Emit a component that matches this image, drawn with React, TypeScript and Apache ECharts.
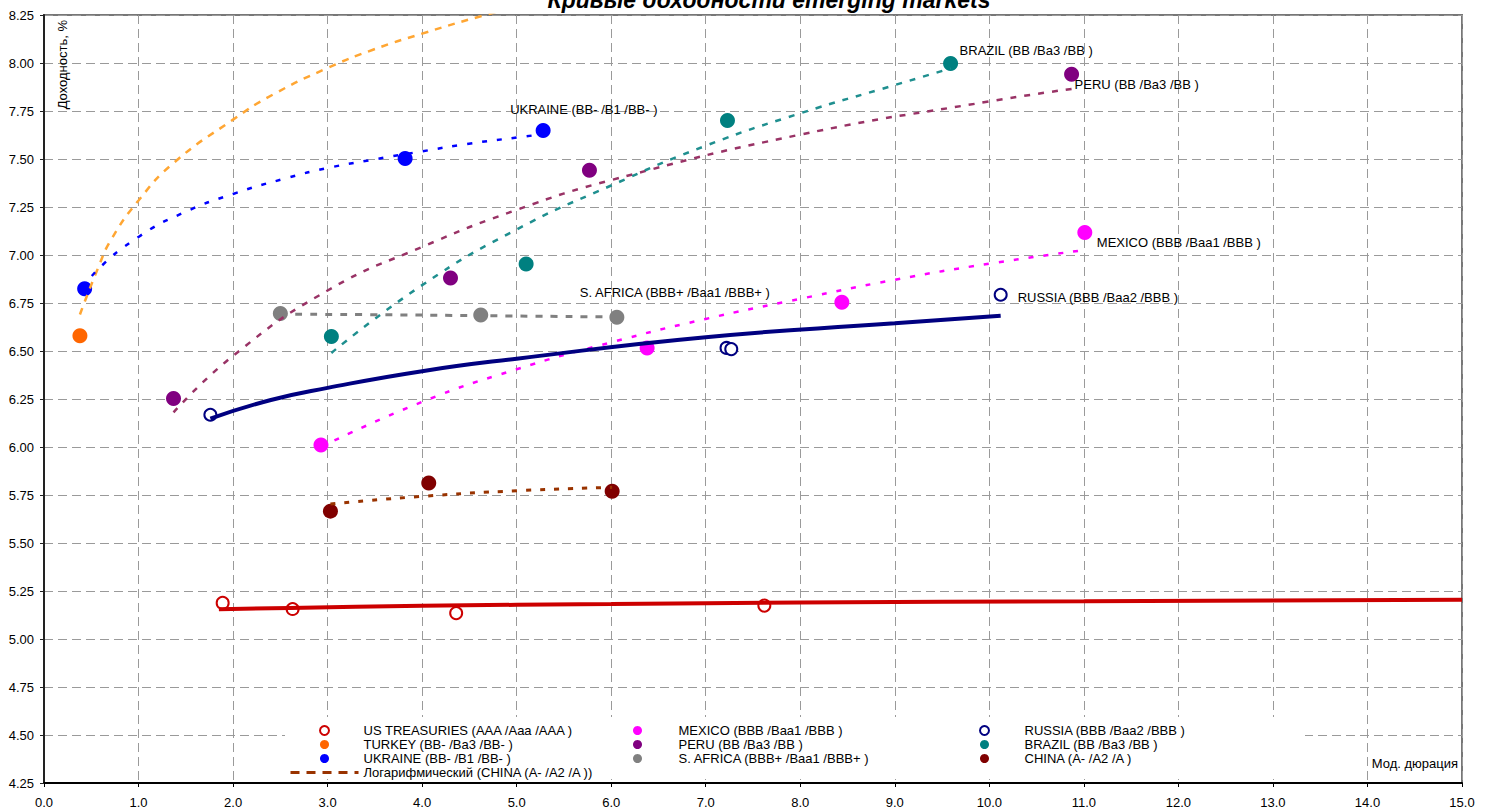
import React, { useEffect, useRef } from "react";
import * as echarts from "echarts";

const FONT = "'Liberation Sans', Arial, sans-serif";

const TITLE = "Кривые доходности emerging markets";
const Y_NAME = "Доходность, %";
const X_NAME = "Мод. дюрация";

// Axis ticks
const X_MIN = 0;
const X_MAX = 15;
const X_STEP = 1;
const Y_MIN = 4.25;
const Y_MAX = 8.25;
const Y_STEP = 0.25;

// Series names
const N_US = "US TREASURIES (AAA /Aaa /AAA )";
const N_TURKEY = "TURKEY (BB- /Ba3 /BB- )";
const N_UKRAINE = "UKRAINE (BB- /B1 /BB- )";
const N_MEXICO = "MEXICO (BBB /Baa1 /BBB )";
const N_PERU = "PERU (BB /Ba3 /BB )";
const N_SAFRICA = "S. AFRICA (BBB+ /Baa1 /BBB+ )";
const N_RUSSIA = "RUSSIA (BBB /Baa2 /BBB )";
const N_BRAZIL = "BRAZIL (BB /Ba3 /BB )";
const N_CHINA = "CHINA (A- /A2 /A )";
const N_CHINA_LOG = "Логарифмический (CHINA (A- /A2 /A ))";

// Bond points: [modified duration, yield %]
const usTreasuries = [[1.89, 5.188], [2.63, 5.156], [4.36, 5.135], [7.62, 5.174]];
const turkey = [[0.38, 6.58]];
const ukraine = [[0.43, 6.824], [3.82, 7.502], [5.28, 7.649]];
const mexico = [[2.93, 6.01], [6.38, 6.516], [8.44, 6.754], [11.01, 7.117]];
const peru = [[1.37, 6.253], [4.3, 6.88], [5.77, 7.441], [10.87, 7.941]];
const sAfrica = [[2.5, 6.695], [4.62, 6.688], [6.06, 6.676]];
const russia = [[1.76, 6.168], [7.22, 6.516], [7.27, 6.51], [10.12, 6.793]];
const brazil = [[3.04, 6.576], [5.1, 6.953], [7.23, 7.7], [9.59, 7.997]];
const china = [[3.03, 5.666], [4.07, 5.812], [6.01, 5.769]];

// Logarithmic trend curves
const usTrend = [[1.85, 5.155], [2.6, 5.162], [4.0, 5.173], [6.0, 5.182], [8.0, 5.19], [11.0, 5.196], [15.0, 5.204]];
const turkeyTrend = [[0.38, 6.69], [0.57, 6.93], [0.71, 7.08], [1.0, 7.284], [1.37, 7.479], [2.0, 7.705], [2.42, 7.835], [3.0, 7.974], [3.48, 8.069], [4.0, 8.153], [4.64, 8.246], [5.3, 8.33]];
const ukraineTrend = [[0.43, 6.822], [0.55, 6.915], [1.0, 7.094], [1.47, 7.219], [2.0, 7.318], [2.57, 7.401], [3.0, 7.453], [3.52, 7.5], [4.0, 7.54], [4.47, 7.578], [5.1, 7.618], [5.28, 7.63]];
const peruTrend = [[1.37, 6.18], [2.0, 6.475], [3.0, 6.815], [4.0, 7.042], [5.0, 7.235], [6.0, 7.39], [8.0, 7.627], [10.0, 7.8], [10.87, 7.865]];
const brazilTrend = [[3.04, 6.49], [4.0, 6.843], [5.0, 7.133], [6.0, 7.362], [7.0, 7.569], [8.0, 7.738], [9.0, 7.885], [9.59, 7.972]];
const sAfricaTrend = [[2.5, 6.692], [3.5, 6.689], [4.6, 6.684], [6.06, 6.677]];
const mexicoTrend = [[2.93, 6.0], [4.0, 6.235], [5.0, 6.405], [6.0, 6.545], [7.0, 6.667], [8.0, 6.772], [9.0, 6.871], [10.0, 6.955], [11.01, 7.026]];
const russiaTrend = [[1.76, 6.148], [2.4, 6.245], [3.0, 6.308], [4.0, 6.395], [5.0, 6.46], [7.0, 6.572], [9.0, 6.644], [10.12, 6.684]];
const chinaTrend = [[3.03, 5.703], [4.0, 5.743], [5.0, 5.772], [6.01, 5.79]];

type Pt = number[];

function scatter(
  name: string,
  data: Pt[],
  color: string,
  empty: boolean,
  labelIdx: number,
  labelOffset: number[]
) {
  return {
    type: "scatter",
    name,
    symbol: empty ? "emptyCircle" : "circle",
    symbolSize: empty ? 12 : 15,
    itemStyle: empty
      ? { color, borderColor: color, borderWidth: 2, opacity: 1 }
      : { color, opacity: 1 },
    emphasis: { disabled: true },
    silent: true,
    z: 2,
    data: data.map((p, i) =>
      i === labelIdx
        ? {
            value: p,
            label: {
              show: true,
              formatter: name,
              position: "inside",
              align: "left",
              verticalAlign: "middle",
              offset: labelOffset,
              color: "#000",
              fontSize: 13,
              fontFamily: FONT,
            },
          }
        : { value: p }
    ),
  };
}

function trend(name: string, data: Pt[], color: string, width: number, dash: any) {
  return {
    type: "line",
    name,
    data,
    smooth: 0.5,
    symbol: "none",
    showSymbol: false,
    clip: true,
    silent: true,
    z: 3,
    itemStyle: { color },
    lineStyle: { color, width, type: dash, cap: "butt" },
    emphasis: { disabled: true },
  };
}

const App: React.FC = () => {
  const ref = useRef<HTMLDivElement>(null);

  useEffect(() => {
    if (!ref.current) return;
    const chart = echarts.init(ref.current, undefined, { renderer: "svg" });

    const legendBase = {
      orient: "vertical",
      top: 724,
      itemHeight: 9,
      itemGap: 1,
      padding: 0,
      selectedMode: false,
      textStyle: { fontSize: 13, color: "#000", fontFamily: FONT },
    };

    const option: any = {
      animation: false,
      backgroundColor: "#fff",
      grid: {
        left: 44,
        right: 39,
        top: 15,
        bottom: 29,
        show: true,
        borderColor: "#777",
        borderWidth: 2,
        backgroundColor: "transparent",
      },
      xAxis: {
        type: "value",
        min: X_MIN,
        max: X_MAX,
        interval: X_STEP,
        axisLine: { show: true, onZero: false, lineStyle: { color: "#000", width: 2 } },
        axisTick: { show: true, length: 4, lineStyle: { color: "#000" } },
        axisLabel: {
          formatter: (v: number) => v.toFixed(1),
          color: "#000",
          fontSize: 13,
          margin: 13,
          fontFamily: FONT,
        },
        splitLine: { show: true, lineStyle: { color: "#9a9a9a", type: [9, 5], width: 1 } },
      },
      yAxis: {
        type: "value",
        min: Y_MIN,
        max: Y_MAX,
        interval: Y_STEP,
        axisLine: { show: true, onZero: false, lineStyle: { color: "#222", width: 2 } },
        axisTick: { show: true, length: 4, lineStyle: { color: "#222" } },
        axisLabel: {
          formatter: (v: number) => v.toFixed(2),
          color: "#000",
          fontSize: 13,
          margin: 10,
          fontFamily: FONT,
        },
        splitLine: { show: true, lineStyle: { color: "#9a9a9a", type: [9, 5], width: 1 } },
      },
      legend: [
        {
          ...legendBase,
          left: 289,
          itemWidth: 68,
          data: [
            { name: N_US },
            { name: N_TURKEY },
            { name: N_UKRAINE },
            {
              name: N_CHINA_LOG,
              itemStyle: { opacity: 0 },
              lineStyle: { type: [9, 7], width: 3, color: "#993300", opacity: 1 },
            },
          ],
        },
        {
          ...legendBase,
          left: 633,
          itemWidth: 72,
          data: [{ name: N_MEXICO }, { name: N_PERU }, { name: N_SAFRICA }],
        },
        {
          ...legendBase,
          left: 979,
          itemWidth: 70,
          data: [{ name: N_RUSSIA }, { name: N_BRAZIL }, { name: N_CHINA }],
        },
      ],
      graphic: [
        {
          type: "rect",
          z: 1,
          silent: true,
          shape: { x: 285, y: 717, width: 1020, height: 62 },
          style: { fill: "#fff" },
        },
        {
          type: "text",
          z: 5,
          x: 769,
          y: 0,
          style: {
            text: TITLE,
            fontSize: 23,
            fontWeight: "bold",
            fontStyle: "italic",
            fontFamily: FONT,
            fill: "#000",
            align: "center",
            verticalAlign: "middle",
          },
        },
        {
          type: "text",
          z: 5,
          x: 62,
          y: 20,
          rotation: Math.PI / 2,
          style: {
            text: Y_NAME,
            fontSize: 13,
            fontFamily: FONT,
            fill: "#000",
            align: "right",
            verticalAlign: "middle",
          },
        },
        {
          type: "text",
          z: 5,
          x: 1458,
          y: 763,
          style: {
            text: X_NAME,
            fontSize: 13,
            fontFamily: FONT,
            fill: "#000",
            align: "right",
            verticalAlign: "middle",
          },
        },
      ],
      series: [
        scatter(N_US, usTreasuries, "#CC0000", true, -1, [0, 0]),
        scatter(N_TURKEY, turkey, "#FF6600", false, -1, [0, 0]),
        scatter(N_UKRAINE, ukraine, "#0000FF", false, 2, [-33, -21]),
        scatter(N_MEXICO, mexico, "#FF00FF", false, 3, [12, 10]),
        scatter(N_PERU, peru, "#800080", false, 3, [3, 10]),
        scatter(N_SAFRICA, sAfrica, "#808080", false, 2, [-37, -25]),
        scatter(N_RUSSIA, russia, "#000080", true, 3, [17, 3]),
        scatter(N_BRAZIL, brazil, "#008080", false, 3, [9, -13]),
        scatter(N_CHINA, china, "#800000", false, -1, [0, 0]),
        trend("trend-turkey", turkeyTrend, "#FFA633", 2.5, [7, 7]),
        trend("trend-ukraine", ukraineTrend, "#0000FF", 2.5, [5, 10]),
        trend("trend-peru", peruTrend, "#993366", 2.5, [6, 8]),
        trend("trend-brazil", brazilTrend, "#1F8F8F", 2.5, [6, 8]),
        trend("trend-safrica", sAfricaTrend, "#808080", 3, [7, 8]),
        trend("trend-mexico", mexicoTrend, "#FF00FF", 2.5, [5, 10]),
        trend(N_CHINA_LOG, chinaTrend, "#993300", 3, [5, 9]),
        trend("trend-russia", russiaTrend, "#000080", 4, "solid"),
        trend("trend-us", usTrend, "#CC0000", 4, "solid"),
      ],
    };

    chart.setOption(option);
    return () => {
      chart.dispose();
    };
  }, []);

  return (
    <div
      ref={ref}
      style={{ position: "absolute", left: 0, top: 0, width: 1501, height: 812, background: "#fff" }}
    />
  );
};

export default App;
